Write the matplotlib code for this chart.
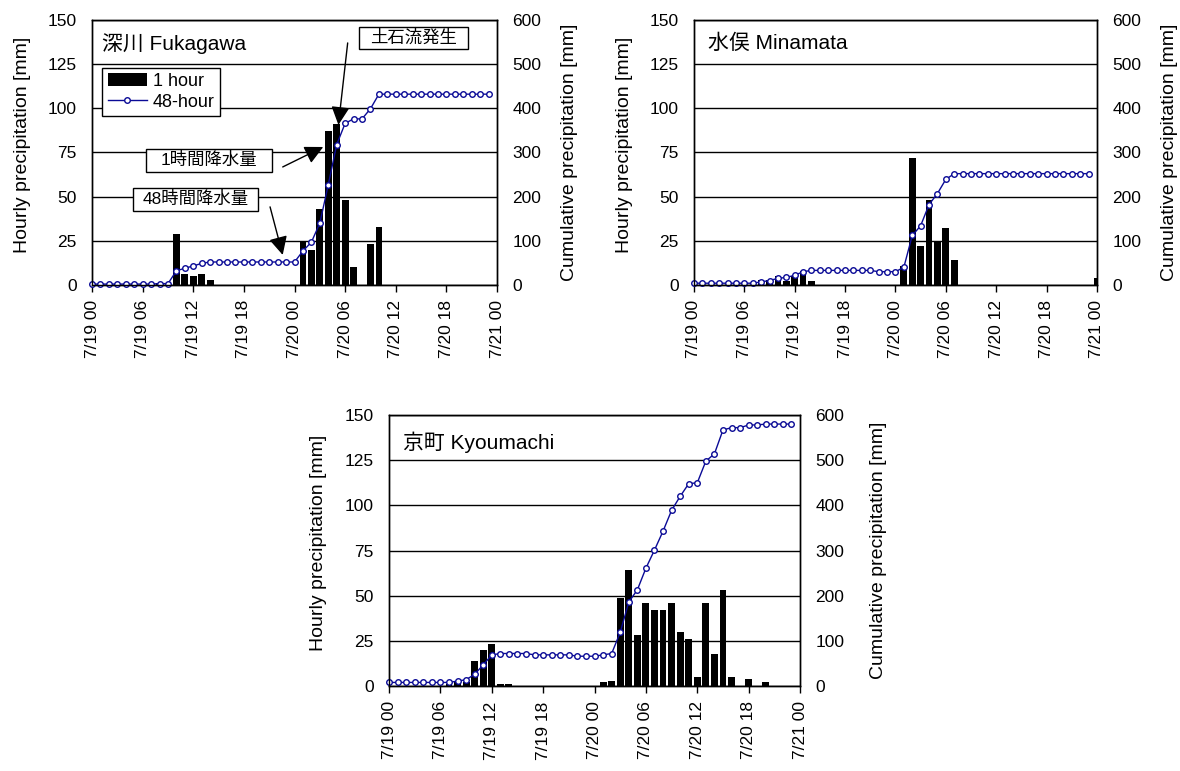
import matplotlib
matplotlib.use("Agg")
import matplotlib.pyplot as plt
from matplotlib.patches import Rectangle

plt.rcParams["font.family"] = ["Liberation Sans", "Noto Sans CJK JP"]

# ---------------------------------------------------------------
# Data (hours after 7/19 00)
hours = list(range(48))
tick_hours = [0, 6, 12, 18, 24, 30, 36, 42, 48]
tick_labels = ["7/19 00", "7/19 06", "7/19 12", "7/19 18", "7/20 00",
               "7/20 06", "7/20 12", "7/20 18", "7/21 00"]

fukagawa_1h = [0, 0, 0, 0, 0, 0, 0, 0, 1, 0, 29, 6, 5, 6, 3, 0,
               0, 0, 0, 0, 0, 0, 0, 0, 0, 25, 20, 43, 87, 91, 48, 10,
               0, 23, 33, 0, 0, 0, 0, 0, 0, 0, 0, 0, 0, 0, 0, 0]
fukagawa_48h = [2, 2, 2, 2, 2, 2, 2, 2, 3, 3, 32, 38, 43, 49, 52, 52,
                52, 52, 52, 52, 52, 52, 52, 52, 52, 77, 97, 140, 227, 318, 366, 376,
                376, 399, 432, 432, 432, 432, 432, 432, 432, 432, 432, 432, 432, 432, 432, 432]

# Minamata has one more bar at 7/21 00
minamata_hours = list(range(49))
minamata_1h = [0, 0, 0, 0, 0, 0, 0, 0, 3, 3, 5, 2, 5, 8, 2, 0,
               0, 0, 0, 0, 0, 0, 0, 0, 0, 11, 72, 22, 48, 25, 32, 14,
               0, 0, 0, 0, 0, 0, 0, 0, 0, 0, 0, 0, 0, 0, 0, 0, 4]
minamata_48h = [4, 4, 4, 4, 4, 4, 4, 4, 7, 10, 15, 17, 22, 30, 33, 33,
                33, 33, 33, 33, 33, 33, 30, 30, 30, 40, 112, 134, 182, 207, 239, 252,
                252, 252, 252, 252, 252, 252, 252, 252, 252, 252, 252, 252, 252, 252, 252, 252]

kyoumachi_1h = [0, 0, 0, 0, 0, 0, 0, 1, 2, 2, 14, 20, 23, 1, 1, 0,
                0, 0, 0, 0, 0, 0, 0, 0, 0, 2, 3, 49, 64, 28, 46, 42,
                42, 46, 30, 26, 5, 46, 18, 53, 5, 0, 4, 0, 2, 0, 0, 0]
kyoumachi_48h = [8, 8, 8, 8, 8, 8, 8, 8, 11, 14, 26, 47, 69, 72, 72, 72,
                 72, 69, 69, 69, 69, 69, 66, 66, 66, 69, 72, 119, 186, 213, 261, 301,
                 343, 389, 420, 448, 450, 498, 514, 567, 572, 572, 578, 578, 580, 580, 580, 580]

line_color = "#0a0a96"


def draw_panel(rect, title, title_x, title_y, bar_x, hourly, cumul, right_lab_x):
    ax = fig.add_axes(rect)
    ax.bar(bar_x, hourly, width=0.8, color="black", label="1 hour")
    ax.set_xlim(0, 48)
    ax.set_ylim(0, 150)
    ax.set_yticks([0, 25, 50, 75, 100, 125, 150])
    ax.set_xticks(tick_hours)
    ax.set_xticklabels(tick_labels, rotation=90)
    ax.grid(True, axis="y", color="black", linewidth=1)
    ax.set_axisbelow(True)
    ax.tick_params(axis="x", direction="out", length=5, width=1, labelsize=12.5, pad=6)
    ax.tick_params(axis="y", length=0, labelsize=12.5, pad=11)
    ax.set_ylabel("Hourly precipitation [mm]", fontsize=14)
    ax.yaxis.label.set_va("center")
    ax.yaxis.set_label_coords(-0.172, 0.53)

    ax2 = ax.twinx()
    ax2.plot(hours, cumul, color=line_color, linewidth=1, marker="o",
             markersize=4, markerfacecolor="white", markeredgecolor=line_color,
             markeredgewidth=1, clip_on=False, label="48-hour")
    ax2.set_ylim(0, 600)
    ax2.set_yticks([0, 100, 200, 300, 400, 500, 600])
    ax2.tick_params(axis="y", length=0, labelsize=12.5, pad=11)
    ax2.set_ylabel("Cumulative precipitation [mm]", fontsize=14, rotation=90)
    ax2.yaxis.label.set_va("center")
    ax2.yaxis.set_label_coords(right_lab_x, 0.5)

    for a in (ax, ax2):
        for s in a.spines.values():
            s.set_linewidth(1)
            s.set_color("black")

    ax2.text(title_x, title_y, title, transform=ax.transAxes, fontsize=15,
             ha="left", va="center")
    return ax, ax2


fig = plt.figure(figsize=(11.8, 7.71), dpi=100)

# ---------------------------------------------------------------
# 深川
ax, ax2 = draw_panel([0.078, 0.6304, 0.3432, 0.3437], "深川 Fukagawa", 0.024, 0.912,
                     hours, fukagawa_1h, fukagawa_48h, 1.178)

h1, l1 = ax.get_legend_handles_labels()
h2, l2 = ax2.get_legend_handles_labels()
ax2.legend(h1 + h2, l1 + l2, loc="upper left", bbox_to_anchor=(0.025, 0.82),
           borderaxespad=0, fontsize=13, frameon=True, fancybox=False,
           edgecolor="black", framealpha=1, handlelength=2.2,
           handletextpad=0.3, borderpad=0.3, labelspacing=0.2)
ax2.get_legend().get_frame().set_linewidth(1)

arrow = dict(arrowstyle="-|>,head_length=0.8,head_width=0.4", color="black",
             linewidth=1, mutation_scale=14, shrinkA=0, shrinkB=0)

# annotation boxes: (text, x0, x1, y0, y1) in hourly-axis data units
notes = [
    ("土石流発生", 31.6, 44.6, 133.4, 146.2),
    ("1時間降水量", 6.4, 21.3, 64.0, 77.0),
    ("48時間降水量", 4.9, 19.7, 41.9, 54.9),
]
for txt, x0, x1, y0, y1 in notes:
    ax2.add_patch(Rectangle((x0, y0), x1 - x0, y1 - y0, transform=ax.transData,
                            facecolor="white", edgecolor="black", linewidth=1, zorder=5))
    ax2.text((x0 + x1) / 2, (y0 + y1) / 2, txt, transform=ax.transData, fontsize=12.5,
             ha="center", va="center", zorder=6)

ax2.annotate("", xy=(29.2, 90.6), xytext=(30.3, 137),
             xycoords=ax.transData, textcoords=ax.transData, arrowprops=arrow)
ax2.annotate("", xy=(27.4, 78.1), xytext=(22.6, 66.8),
             xycoords=ax.transData, textcoords=ax.transData, arrowprops=arrow)
ax2.annotate("", xy=(22.6, 17), xytext=(21.1, 44.2),
             xycoords=ax.transData, textcoords=ax.transData, arrowprops=arrow)

# ---------------------------------------------------------------
# 水俣
draw_panel([0.5881, 0.6304, 0.3415, 0.3437], "水俣 Minamata", 0.035, 0.912,
           minamata_hours, minamata_1h, minamata_48h, 1.18)

# ---------------------------------------------------------------
# 京町
draw_panel([0.3297, 0.1102, 0.3483, 0.3515], "京町 Kyoumachi", 0.034, 0.90,
           hours, kyoumachi_1h, kyoumachi_48h, 1.19)

fig.savefig("out.png", dpi=100)
